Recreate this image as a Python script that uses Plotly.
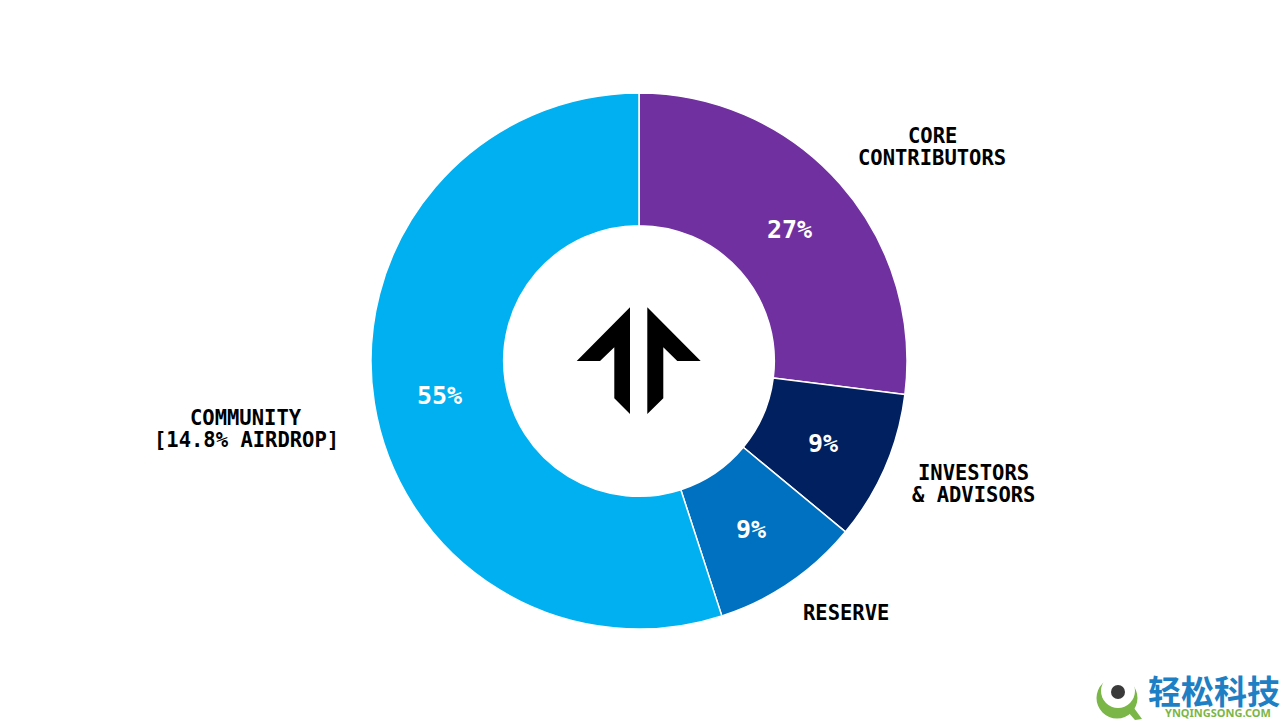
import plotly.graph_objects as go

categories = ["Core Contributors", "Investors & Advisors", "Reserve", "Community"]
shares = [27, 9, 9, 55]
outside_labels = ["CORE", "CONTRIBUTORS", "INVESTORS", "&amp; ADVISORS", "RESERVE", "COMMUNITY", "[14.8% AIRDROP]"]
colors = ["#7030A0", "#002060", "#0070C0", "#00B0F0"]

W, H = 1280, 720
FONT = "DejaVu Sans Mono"


def px(x):
    return x / W


def py(y):
    return 1 - y / H


fig = go.Figure(
    go.Pie(
        labels=categories,
        values=shares,
        sort=False,
        direction="clockwise",
        rotation=0,
        hole=0.505,
        marker=dict(colors=colors, line=dict(color="white", width=1.5)),
        textinfo="none",
        hoverinfo="label+percent",
        showlegend=False,
        domain=dict(x=[px(371), px(907)], y=[py(629), py(93)]),
    )
)

label_anchor = [(932, 136), (932, 158), (973, 473), (973, 495), (846, 613), (246, 418), (246, 440)]
percent_anchor = [(789, 229), (823, 443), (751, 529), (439, 395)]

annotations = [
    dict(
        x=px(x), y=py(y), xref="paper", yref="paper", text=f"<b>{t}</b>",
        showarrow=False, xanchor="center", yanchor="middle", align="center",
        font=dict(family=FONT, size=20.5, color="black"),
    )
    for t, (x, y) in zip(outside_labels, label_anchor)
]
annotations += [
    dict(
        x=px(x), y=py(y), xref="paper", yref="paper", text=f"<b>{v}%</b>",
        showarrow=False, xanchor="center", yanchor="middle",
        font=dict(family=FONT, size=25, color="white"),
    )
    for v, (x, y) in zip(shares, percent_anchor)
]
annotations += [
    dict(x=px(1213.5), y=py(690), xref="paper", yref="paper", text="<b>轻松科技</b>",
         showarrow=False, font=dict(family="Noto Sans CJK SC", size=33, color="#1F7FC4"),
         xanchor="center", yanchor="middle", borderpad=0, borderwidth=0),
    dict(x=px(1217.5), y=py(712.5), xref="paper", yref="paper", text="<b>YNQINGSONG.COM</b>",
         showarrow=False, font=dict(family="Noto Sans", size=11, color="#7AB648"),
         xanchor="center", yanchor="middle", borderpad=0, borderwidth=0),
]


def poly(points, color):
    d = "M " + " L ".join(f"{px(x):.5f},{py(y):.5f}" for x, y in points) + " Z"
    return dict(type="path", xref="paper", yref="paper", path=d, fillcolor=color, line=dict(width=0))


def circle(cx, cy, r, color):
    return dict(type="circle", xref="paper", yref="paper",
                x0=px(cx - r), x1=px(cx + r), y0=py(cy + r), y1=py(cy - r),
                fillcolor=color, line=dict(width=0))


shapes = [
    poly([(630, 307.3), (576.7, 361), (600, 361), (614.3, 347.3), (614.3, 398.3), (630, 414)], "black"),
    poly([(647.3, 307.3), (700.7, 361), (677.3, 361), (663.3, 347.3), (663.3, 398.3), (647.3, 414)], "black"),
    circle(1117, 698, 20.5, "#7AB648"),
    poly([(1128, 712), (1134, 708), (1142, 719), (1135, 720)], "#7AB648"),
    circle(1118, 691, 17, "white"),
    circle(1118, 692, 7, "#3A3A3A"),
]

fig.update_layout(
    width=W, height=H, autosize=False,
    margin=dict(l=0, r=0, t=0, b=0),
    paper_bgcolor="white", plot_bgcolor="white",
    annotations=annotations, shapes=shapes,
)
fig.write_html("out.html", config={"displayModeBar": False},
               post_script="document.body.style.margin='0';")
